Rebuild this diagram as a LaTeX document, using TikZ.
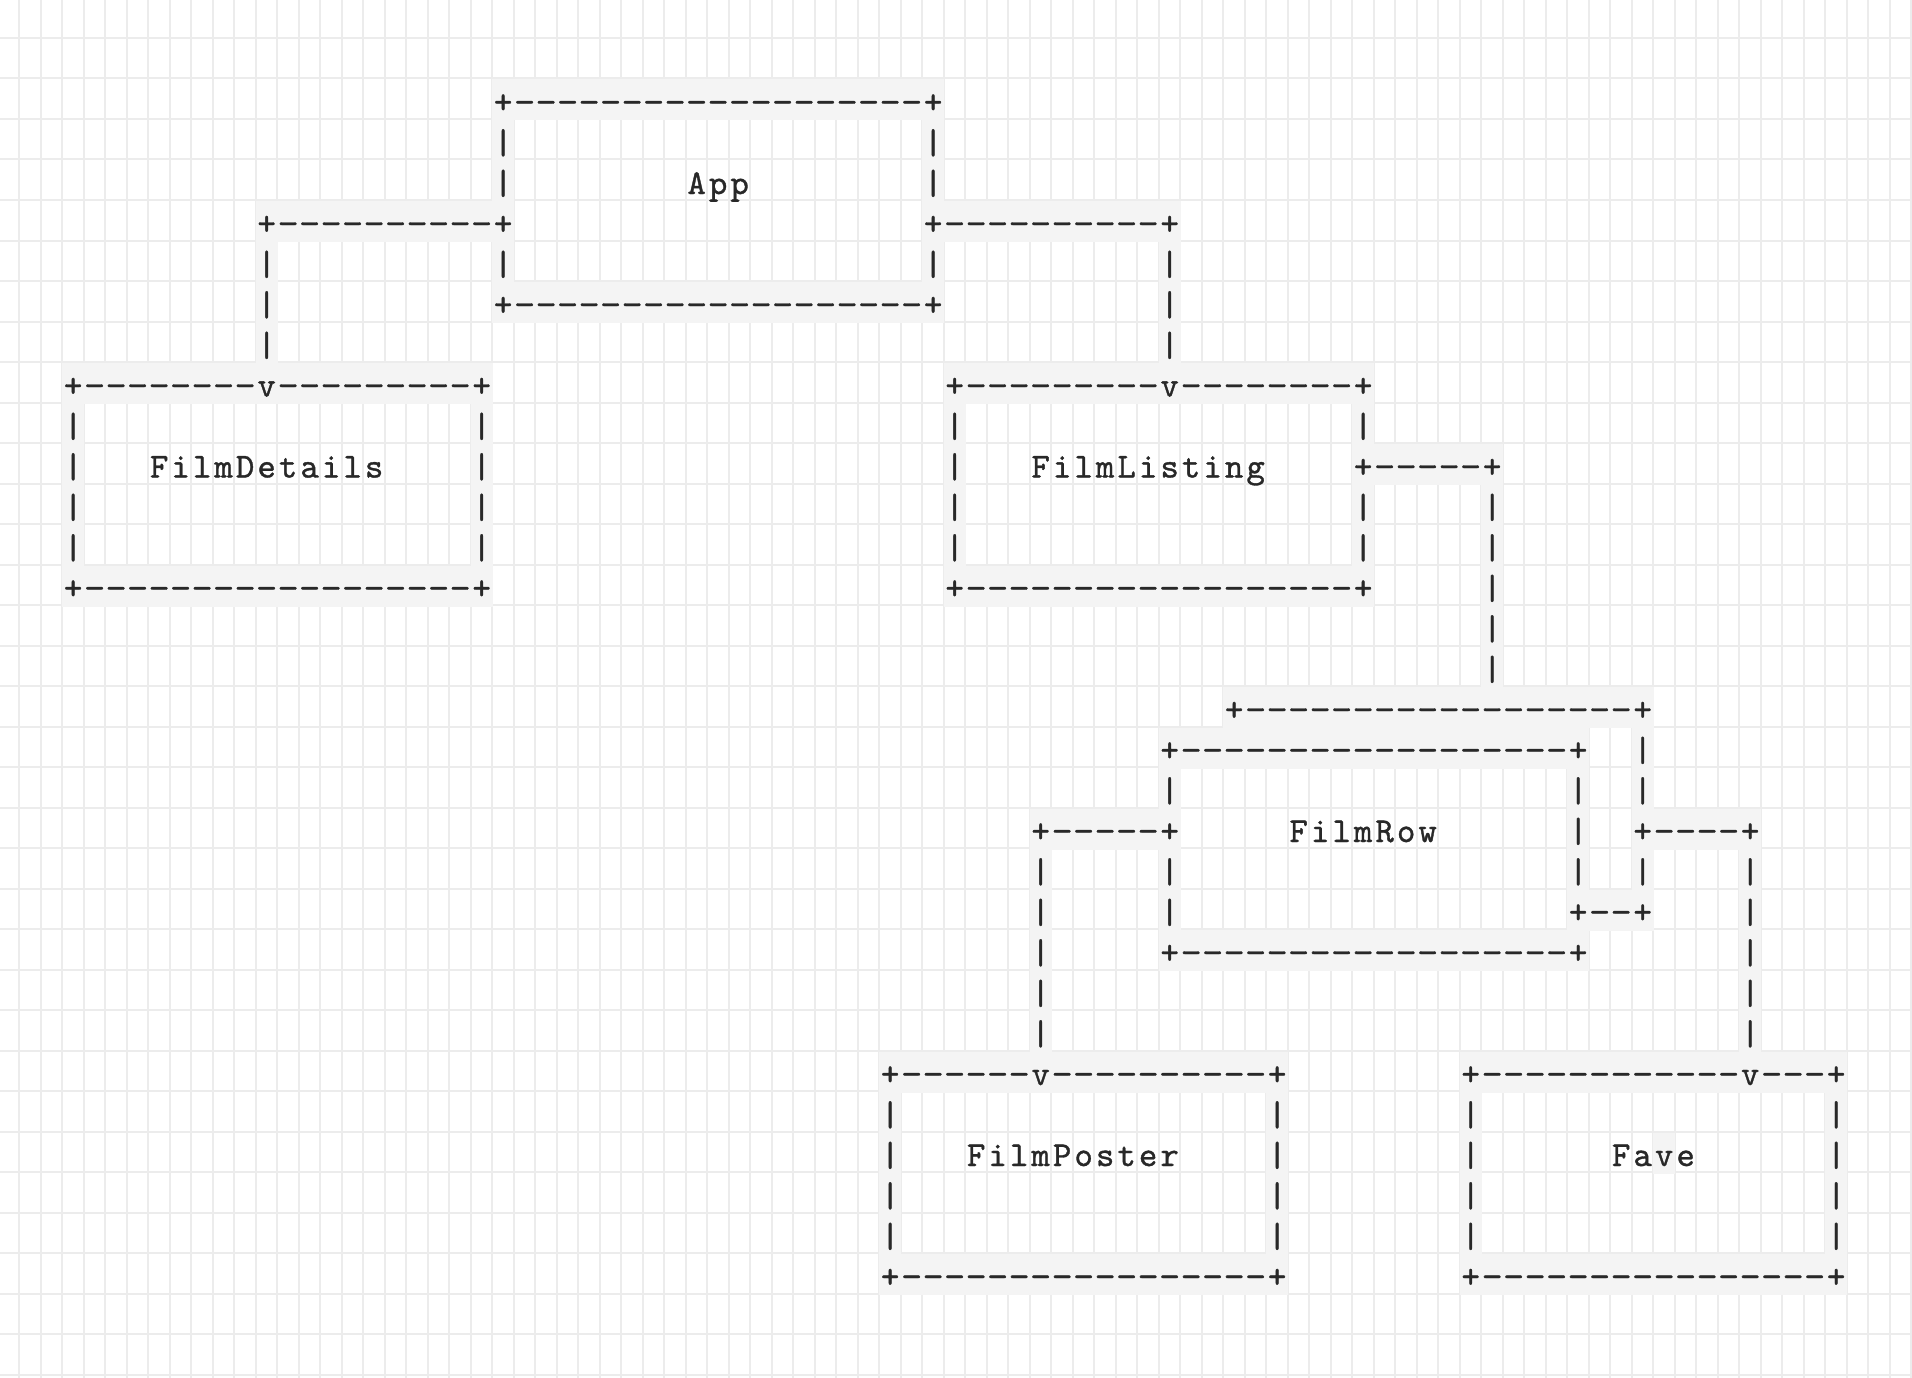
\documentclass[tikz,border=0pt]{standalone}
\usepackage{fontspec}
\usepackage{graphicx}
\newfontfamily\asciifont{lmmono10-regular.otf}[FakeBold=1.0]
\definecolor{gridc}{RGB}{236,236,236}
\definecolor{hl}{RGB}{244,244,244}
\definecolor{txt}{RGB}{40,40,40}
\newif\ifhlpass
% highlight of one character cell at row #1, column #2
\newcommand\cellhl[3]{\fill[hl] ({-2.34+21.5*(#2)},{40.5*(#1)-1.5}) rectangle ++(22,41);}
% the character itself
\newcommand\cellch[3]{\node[ch] (g#1-#2) at ({8.66+21.5*(#2)},{40.5*(#1)+32}) {#3};}
\newcommand\cell[3]{\ifhlpass\expandafter\cellhl\else\expandafter\cellch\fi{#1}{#2}{#3}}
\newcommand\dashch{\scalebox{1.15}[1]{-}}
% horizontal border: + at c1 and c2, dashes between
\newcommand\hseg[3]{%
  \cell{#1}{#2}{+}\cell{#1}{#3}{+}%
  \pgfmathtruncatemacro\hsa{#2+1}\pgfmathtruncatemacro\hsb{#3-1}%
  \foreach \c in {\hsa,...,\hsb}{\cell{#1}{\c}{\dashch}}}
% horizontal border with a v (arrow) at cv
\newcommand\hsegv[4]{%
  \cell{#1}{#2}{+}\cell{#1}{#3}{v}\cell{#1}{#4}{+}%
  \pgfmathtruncatemacro\hsa{#2+1}\pgfmathtruncatemacro\hsb{#3-1}%
  \foreach \c in {\hsa,...,\hsb}{\cell{#1}{\c}{\dashch}}%
  \pgfmathtruncatemacro\hsa{#3+1}\pgfmathtruncatemacro\hsb{#4-1}%
  \foreach \c in {\hsa,...,\hsb}{\cell{#1}{\c}{\dashch}}}
% vertical border: | in column #1, rows #2..#3
\newcommand\vseg[3]{\foreach \r in {#2,...,#3}{\cell{\r}{#1}{|}}}
% box title, one character per cell, no highlight
\newcount\tcol
\def\tstop{TSTOP}
\def\boxtext#1#2#3{\ifhlpass\else\def\trow{#1}\tcol=#2\relax\boxtextloop#3\tstop\fi}
\def\boxtextloop#1{\ifx#1\tstop\else
  \node[ch] (t\trow-\the\tcol) at ({8.66+21.5*\the\tcol},{40.5*\trow+32}) {#1};%
  \advance\tcol by 1\relax\expandafter\boxtextloop\fi}
\def\diagram{%
% App
\hseg{2}{23}{43}
\vseg{23}{3}{4}\vseg{43}{3}{4}
\hseg{5}{12}{23}
\hseg{5}{43}{54}
\vseg{23}{6}{6}\vseg{43}{6}{6}
\hseg{7}{23}{43}
\vseg{12}{6}{8}\vseg{54}{6}{8}
\boxtext{4}{32}{App}
% FilmDetails
\hsegv{9}{3}{12}{22}
\vseg{3}{10}{13}\vseg{22}{10}{13}
\hseg{14}{3}{22}
\boxtext{11}{7}{FilmDetails}
% FilmListing
\hsegv{9}{44}{54}{63}
\vseg{44}{10}{13}
\vseg{63}{10}{10}
\hseg{11}{63}{69}
\vseg{63}{12}{13}
\hseg{14}{44}{63}
\vseg{69}{12}{16}
\boxtext{11}{48}{FilmListing}
% FilmRow
\hseg{17}{57}{76}
\vseg{76}{18}{19}
\hseg{18}{54}{73}
\vseg{54}{19}{19}
\vseg{54}{21}{22}
\hseg{20}{48}{54}
\vseg{73}{19}{21}
\hseg{20}{76}{81}
\vseg{76}{21}{21}
\hseg{22}{73}{76}
\hseg{23}{54}{73}
\vseg{48}{21}{25}
\vseg{81}{21}{25}
\boxtext{20}{60}{FilmRow}
% FilmPoster
\hsegv{26}{41}{48}{59}
\vseg{41}{27}{30}\vseg{59}{27}{30}
\hseg{31}{41}{59}
\boxtext{28}{45}{FilmPoster}
% Fave
\hsegv{26}{68}{81}{85}
\vseg{68}{27}{30}\vseg{85}{27}{30}
\hseg{31}{68}{85}
\ifhlpass\cellhl{28}{77}{}\fi
\boxtext{28}{75}{Fave}
}
\begin{document}
\begin{tikzpicture}[x=1pt,y=-1pt,
  ch/.style={anchor=base,inner sep=0pt,outer sep=0pt,text=txt,
    font=\asciifont\fontsize{35}{40}\selectfont}]
\useasboundingbox (0,0) rectangle (1912,1378);
\fill[white] (0,0) rectangle (1912,1378);
\foreach \k in {0,...,89} \draw[gridc,line width=2pt] ({-2.09+21.5*\k},0) -- ++(0,1378);
\foreach \k in {0,...,34} \draw[gridc,line width=2pt] (0,{40.5*\k-2.5}) -- ++(1912,0);
\hlpasstrue
\diagram
\hlpassfalse
\diagram
\end{tikzpicture}
\end{document}
